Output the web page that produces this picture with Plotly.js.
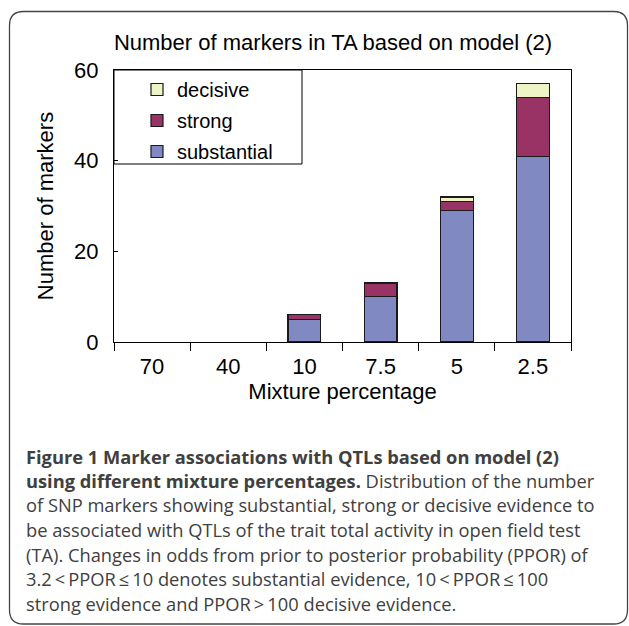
<!DOCTYPE html>
<html>
<head>
<meta charset="utf-8">
<script src="https://cdn.plot.ly/plotly-3.0.1.min.js"></script>
<style>
  html, body { margin: 0; padding: 0; background: #ffffff; }
  #chart { width: 629px; height: 626px; }
</style>
</head>
<body>
<div id="chart"></div>
<script>
// ---- data ----
const categories = ['70', '40', '10', '7.5', '5', '2.5'];
const substantial = [0, 0, 5, 10, 29, 41];
const strong = [0, 0, 1, 3, 2, 13];
const decisive = [0, 0, 0, 0, 1, 3];
const seriesNames = ['substantial', 'strong', 'decisive'];
const yTicks = [0, 20, 40, 60];

const chartTitle = 'Number of markers in TA based on model (2)';
const xTitle = 'Mixture percentage';
const yTitle = 'Number of markers';

const captionLines = [
  '<b>Figure 1 Marker associations with QTLs based on model (2)</b>',
  '<b>using different mixture percentages.</b> Distribution of the number',
  'of SNP markers showing substantial, strong or decisive evidence to',
  'be associated with QTLs of the trait total activity in open field test',
  '(TA). Changes in odds from prior to posterior probability (PPOR) of',
  '3.2\u2009<\u2009PPOR\u2009\u2264\u200910 denotes substantial evidence, 10\u2009<\u2009PPOR\u2009\u2264\u2009100',
  'strong evidence and PPOR\u2009>\u2009100 decisive evidence.'
];

// ---- geometry (pixels) ----
const W = 629, H = 626;
const L = 114, R = 571, T = 70, B = 342;
const px = x => (x - L) / (R - L);
const py = y => (B - y) / (B - T);

const colors = ['#8189C2', '#993366', '#EFF4C6'];
const values = [substantial, strong, decisive];

const chartFont = 'Liberation Sans, Arial, sans-serif';

const traces = seriesNames.map((name, i) => ({
  type: 'bar',
  name: name,
  legendgroup: name,
  legendrank: seriesNames.length - i,
  x: categories,
  y: values[i].map(v => (v === 0 ? null : v)),
  marker: { color: colors[i], line: { color: '#1a1a1a', width: 1.2 } },
  hoverinfo: 'skip'
}));

// caption annotations
const capTop = 456, capStep = 24.5;
const annotations = captionLines.map((t, i) => ({
  xref: 'paper', yref: 'paper',
  x: px(24), y: py(capTop + i * capStep),
  xanchor: 'left', yanchor: 'middle',
  text: t, showarrow: false, align: 'left',
  font: { family: 'Open Sans, sans-serif', size: 18.3, color: '#404040' }
}));

// rounded frame around the whole figure
function framePath(x0, y0, x1, y1, r) {
  const P = (x, y) => px(x) + ',' + py(y);
  return 'M' + P(x0, y0 + r) +
    ' Q' + P(x0, y0) + ' ' + P(x0 + r, y0) +
    ' L' + P(x1 - r, y0) +
    ' Q' + P(x1, y0) + ' ' + P(x1, y0 + r) +
    ' L' + P(x1, y1 - r) +
    ' Q' + P(x1, y1) + ' ' + P(x1 - r, y1) +
    ' L' + P(x0 + r, y1) +
    ' Q' + P(x0, y1) + ' ' + P(x0, y1 - r) + ' Z';
}

const shapes = [
  { type: 'path', xref: 'paper', yref: 'paper',
    path: framePath(9.5, 11.5, 627.5, 624, 14),
    line: { color: '#444444', width: 1.3 } },
  // legend box
  { type: 'rect', xref: 'paper', yref: 'paper',
    x0: 0, x1: px(302), y0: py(164), y1: 1,
    line: { color: '#000000', width: 1 } }
];

const layout = {
  width: W, height: H,
  margin: { l: L, r: W - R, t: T, b: H - B, pad: 0 },
  paper_bgcolor: '#ffffff', plot_bgcolor: '#ffffff',
  font: { family: chartFont, size: 22, color: '#000000' },
  barmode: 'stack',
  bargap: 0.57,
  showlegend: true,
  title: {
    text: chartTitle,
    font: { family: chartFont, size: 22, color: '#000000' },
    xref: 'paper', x: px(333), xanchor: 'center',
    yref: 'container', y: 1 - 42 / H, yanchor: 'middle'
  },
  legend: {
    x: px(137), y: 1, xanchor: 'left', yanchor: 'top',
    traceorder: 'grouped',
    tracegroupgap: 2,
    bgcolor: 'rgba(0,0,0,0)', borderwidth: 0,
    font: { family: chartFont, size: 20, color: '#000000' }
  },
  xaxis: {
    type: 'category',
    tickson: 'boundaries',
    ticks: 'outside', ticklen: 8, tickwidth: 1, tickcolor: '#000000',
    ticklabelstandoff: 5,
    showline: true, linecolor: '#000000', linewidth: 1, mirror: true,
    showgrid: false, zeroline: false,
    tickfont: { family: chartFont, size: 22, color: '#000000' },
    title: { text: xTitle, standoff: 4,
             font: { family: chartFont, size: 22, color: '#000000' } }
  },
  yaxis: {
    range: [0, 60],
    tickvals: yTicks,
    ticks: 'inside', ticklen: 4, tickcolor: '#000000',
    ticklabelstandoff: 10,
    showline: true, linecolor: '#000000', linewidth: 1, mirror: true,
    showgrid: false, zeroline: false,
    tickfont: { family: chartFont, size: 22, color: '#000000' },
    title: { text: yTitle, standoff: 14,
             font: { family: chartFont, size: 22, color: '#000000' } }
  },
  shapes: shapes,
  annotations: annotations
};

Plotly.newPlot('chart', traces, layout, { staticPlot: true, displayModeBar: false });
</script>
</body>
</html>
